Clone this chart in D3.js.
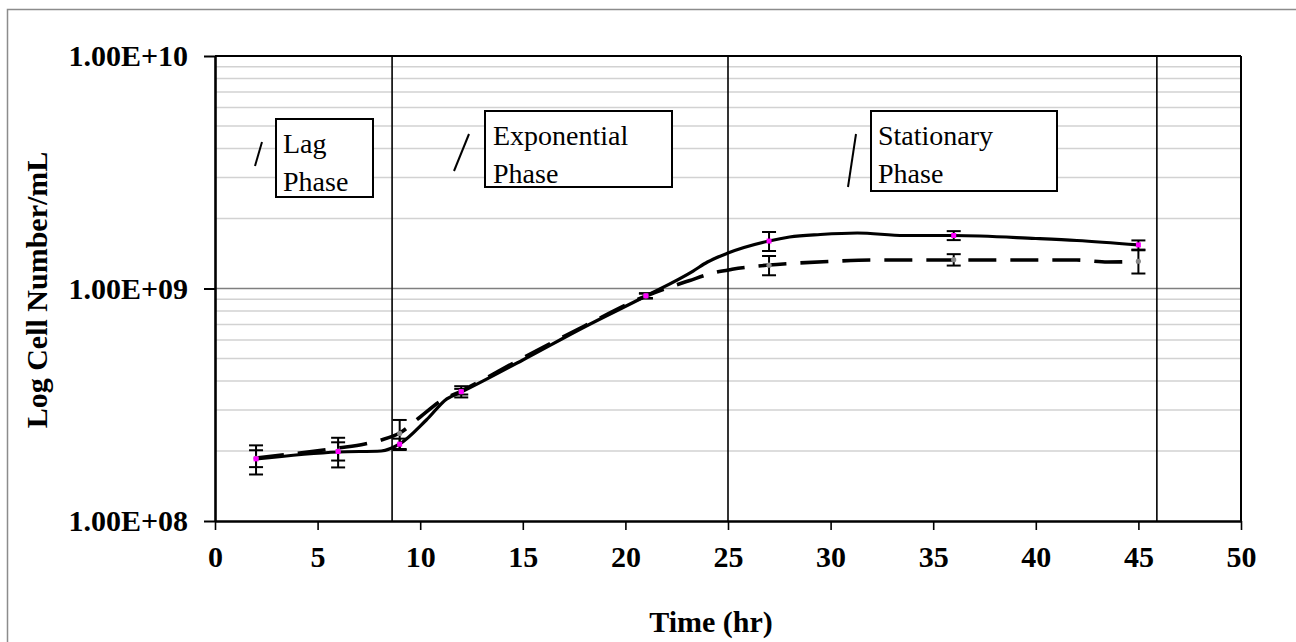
<!DOCTYPE html>
<html>
<head>
<meta charset="utf-8">
<script src="https://cdn.jsdelivr.net/npm/d3@7"></script>
<style>
  html, body { margin: 0; padding: 0; background: #fff; }
  svg { display: block; }
  text { font-family: "Liberation Serif", "Times New Roman", serif; }
</style>
</head>
<body>
<svg id="chart" width="1296" height="642"></svg>
<script>
// ---------- data ----------
const xTicks = [0, 5, 10, 15, 20, 25, 30, 35, 40, 45, 50];
const yTicks = [1e8, 1e9, 1e10];
const yTickLabels = ["1.00E+08", "1.00E+09", "1.00E+10"];
const xTitle = "Time (hr)";
const yTitle = "Log Cell Number/mL";

const sampleTimes = [2, 6, 9, 12, 21, 27, 36, 45];
const solidMeans  = [1.85e8, 1.99e8, 2.14e8, 3.6e8, 9.3e8, 1.60e9, 1.69e9, 1.54e9];
const solidErr    = [0.265e8, 0.29e8, 0.12e8, 0.2e8, 0.25e8, 0.15e9, 0.075e9, 0.07e9];
const dashedMeans = [1.86e8, 2.0e8, 2.38e8, 3.6e8, 9.3e8, 1.26e9, 1.33e9, 1.31e9];
const dashedErr   = [0.155e8, 0.18e8, 0.34e8, 0.1e8, 0.2e8, 0.12e9, 0.075e9, 0.15e9];

const solidCurveT = [2, 6, 8.1, 9, 10.3, 11.3, 12, 15, 18, 21, 23.3, 24, 25, 27, 28, 29.5, 31.3, 33.6, 36, 40, 42, 45];
const solidCurveV = [1.848e8, 1.981e8, 2.0e8, 2.144e8, 2.719e8, 3.35e8, 3.587e8, 4.926e8, 6.83e8, 9.284e8,
                     1.189e9, 1.30e9, 1.421e9, 1.601e9, 1.665e9, 1.707e9, 1.733e9, 1.69e9, 1.69e9, 1.641e9, 1.609e9, 1.539e9];
const dashedCurveT = [2, 6, 7.3, 8.1, 9, 10, 11, 12, 15, 18, 21, 23.1, 24.4, 25.2, 27, 28.2, 30, 32, 42, 43.5, 45];
const dashedCurveV = [1.866e8, 2.061e8, 2.144e8, 2.23e8, 2.39e8, 2.801e8, 3.282e8, 3.623e8, 5.023e8, 6.898e8, 9.284e8,
                      1.08e9, 1.174e9, 1.209e9, 1.262e9, 1.284e9, 1.307e9, 1.326e9, 1.326e9, 1.30e9, 1.307e9];

const phaseBoundaries = [8.63, 25, 45.9];
const phaseLabels = [["Lag", "Phase"], ["Exponential", "Phase"], ["Stationary", "Phase"]];

// ---------- layout ----------
const svg = d3.select("#chart");
const x = d3.scaleLinear().domain([0, 50]).range([215, 1241]);
const y = d3.scaleLog().domain([1e8, 1e10]).range([521, 56]);
const FONT = 30;

// outer figure border
svg.append("rect").attr("x", 7.5).attr("y", 9.5).attr("width", 1320).attr("height", 700)
  .attr("fill", "#fff").attr("stroke", "#8c8c8c").attr("stroke-width", 1.5);

// minor gridlines
const minorVals = [];
[1e8, 1e9].forEach(d => { for (let k = 2; k <= 9; k++) minorVals.push(d * k); });
svg.append("g").selectAll("line").data(minorVals).join("line")
  .attr("x1", x(0)).attr("x2", x(50))
  .attr("y1", d => y(d)).attr("y2", d => y(d))
  .attr("stroke", "#d2d2d2").attr("stroke-width", 1.5);
// major gridline
svg.append("g").selectAll("line").data([1e9]).join("line")
  .attr("x1", x(0)).attr("x2", x(50))
  .attr("y1", d => y(d)).attr("y2", d => y(d))
  .attr("stroke", "#7f7f7f").attr("stroke-width", 1.5);

// phase boundary lines
svg.append("g").selectAll("line").data(phaseBoundaries).join("line")
  .attr("x1", d => x(d)).attr("x2", d => x(d))
  .attr("y1", y(1e10)).attr("y2", y(1e8))
  .attr("stroke", "#000").attr("stroke-width", 1.6);

// frame top/right
svg.append("line").attr("x1", x(0)).attr("x2", x(50)).attr("y1", y(1e10)).attr("y2", y(1e10))
  .attr("stroke", "#000").attr("stroke-width", 2.2);
svg.append("line").attr("x1", x(50)).attr("x2", x(50)).attr("y1", y(1e10)).attr("y2", y(1e8))
  .attr("stroke", "#000").attr("stroke-width", 2);

// axes
const xAxis = d3.axisBottom(x).tickValues(xTicks).tickSize(9).tickSizeOuter(0).tickPadding(16);
const gx = svg.append("g").attr("transform", `translate(0,${y(1e8)})`).call(xAxis);
gx.select(".domain").attr("stroke", "#000").attr("stroke-width", 2.6);
gx.selectAll(".tick line").attr("stroke", "#000").attr("stroke-width", 1.6);
gx.selectAll(".tick text").attr("font-size", FONT).attr("font-weight", "bold")
  .attr("font-family", "Liberation Serif").attr("fill", "#000");

const yAxis = d3.axisLeft(y).tickValues(yTicks).tickSize(11).tickSizeOuter(0).tickPadding(16)
  .tickFormat((d, i) => yTickLabels[i]);
const gy = svg.append("g").attr("transform", `translate(${x(0)},0)`).call(yAxis);
gy.select(".domain").attr("stroke", "#000").attr("stroke-width", 2.6);
gy.selectAll(".tick line").attr("stroke", "#000").attr("stroke-width", 2);
gy.selectAll(".tick text").attr("font-size", FONT).attr("font-weight", "bold")
  .attr("font-family", "Liberation Serif").attr("fill", "#000");

// axis titles
svg.append("text").attr("x", 711).attr("y", 632).attr("text-anchor", "middle")
  .attr("font-size", FONT).attr("font-weight", "bold").text(xTitle);
svg.append("text").attr("transform", "translate(47,290) rotate(-90)").attr("text-anchor", "middle")
  .attr("font-size", FONT).attr("font-weight", "bold").text(yTitle);

// curves
const solidData = solidCurveT.map((t, i) => [t, solidCurveV[i]]);
const dashedData = dashedCurveT.map((t, i) => [t, dashedCurveV[i]]);
const line = d3.line().x(d => x(d[0])).y(d => y(d[1])).curve(d3.curveMonotoneX);

svg.append("path").datum(dashedData).attr("d", line).attr("fill", "none")
  .attr("stroke", "#000").attr("stroke-width", 3.6).attr("stroke-dasharray", "28,14");
svg.append("path").datum(solidData).attr("d", line).attr("fill", "none")
  .attr("stroke", "#000").attr("stroke-width", 3.2);

// error bars
function errorBars(means, errs) {
  const g = svg.append("g");
  const data = sampleTimes.map((t, i) => ({ t, m: means[i], e: errs[i] }));
  g.selectAll(".v").data(data).join("line")
    .attr("x1", d => x(d.t)).attr("x2", d => x(d.t))
    .attr("y1", d => y(d.m + d.e)).attr("y2", d => y(d.m - d.e))
    .attr("stroke", "#000").attr("stroke-width", 2);
  ["+", "-"].forEach(s => {
    g.selectAll(".c" + (s === "+" ? "p" : "m")).data(data).join("line")
      .attr("x1", d => x(d.t) - 7).attr("x2", d => x(d.t) + 7)
      .attr("y1", d => y(s === "+" ? d.m + d.e : d.m - d.e))
      .attr("y2", d => y(s === "+" ? d.m + d.e : d.m - d.e))
      .attr("stroke", "#000").attr("stroke-width", 2);
  });
}
errorBars(dashedMeans, dashedErr);
errorBars(solidMeans, solidErr);

// markers
svg.append("g").selectAll("circle").data(sampleTimes.map((t, i) => [t, dashedMeans[i]])).join("circle")
  .attr("cx", d => x(d[0])).attr("cy", d => y(d[1])).attr("r", 2.6).attr("fill", "#8a8a8a");
svg.append("g").selectAll("rect").data(sampleTimes.map((t, i) => [t, solidMeans[i]])).join("rect")
  .attr("x", d => x(d[0]) - 2.5).attr("y", d => y(d[1]) - 2.5).attr("width", 5).attr("height", 5)
  .attr("fill", "#ff00ff");

// phase annotation boxes
const boxes = [
  { x: 276, y: 119, w: 97, h: 78, tx: 283, slash: [[262, 142], [255, 166]] },
  { x: 485, y: 111, w: 187, h: 76, tx: 493, slash: [[469, 134], [454, 171]] },
  { x: 871, y: 111, w: 186, h: 80, tx: 878, slash: [[856, 134], [848, 187]] }
];
boxes.forEach((b, i) => {
  svg.append("line").attr("x1", b.slash[0][0]).attr("y1", b.slash[0][1])
    .attr("x2", b.slash[1][0]).attr("y2", b.slash[1][1])
    .attr("stroke", "#000").attr("stroke-width", 2);
  svg.append("rect").attr("x", b.x).attr("y", b.y).attr("width", b.w).attr("height", b.h)
    .attr("fill", "#fff").attr("stroke", "#000").attr("stroke-width", 2);
  const t = svg.append("text").attr("font-size", 28).attr("fill", "#000");
  phaseLabels[i].forEach((s, j) => {
    t.append("tspan").attr("x", b.tx).attr("y", b.y + 34 + j * 38).text(s);
  });
});
</script>
</body>
</html>
